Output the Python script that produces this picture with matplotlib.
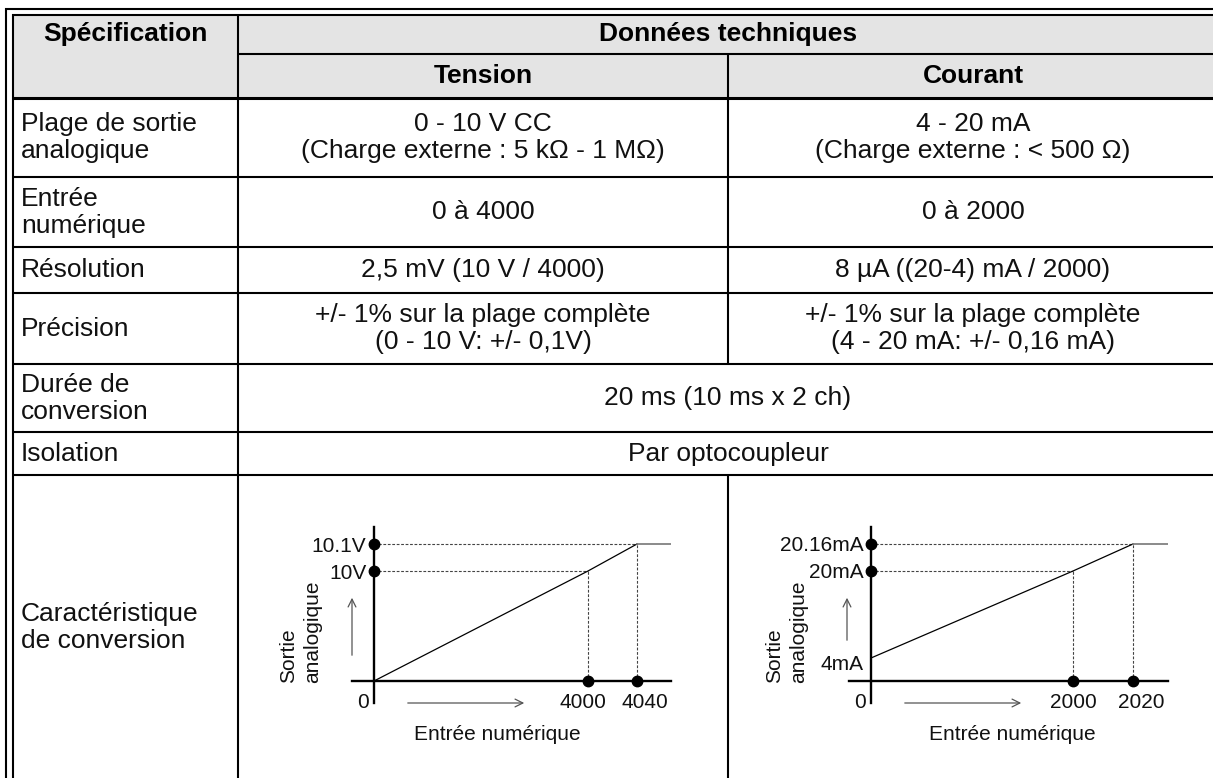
import numpy as np
import matplotlib
matplotlib.use("Agg")
import matplotlib.pyplot as plt
from matplotlib.patches import Rectangle
from matplotlib.transforms import ScaledTranslation

plt.rcParams['font.family'] = ['Liberation Sans', 'DejaVu Sans']

W, H = 1213, 778

# --- contenu du tableau ---
spec_labels = [["Plage de sortie", "analogique"], ["Entrée", "numérique"], ["Résolution"],
               ["Précision"], ["Durée de", "conversion"], ["Isolation"],
               ["Caractéristique", "de conversion"]]
tension_vals = [["0 - 10 V CC", "(Charge externe : 5 kΩ - 1 MΩ)"], ["0 à 4000"],
                ["2,5 mV (10 V / 4000)"],
                ["+/- 1% sur la plage complète", "(0 - 10 V: +/- 0,1V)"]]
courant_vals = [["4 - 20 mA", "(Charge externe : < 500 Ω)"], ["0 à 2000"],
                ["8 µA ((20-4) mA / 2000)"],
                ["+/- 1% sur la plage complète", "(4 - 20 mA: +/- 0,16 mA)"]]
shared_vals = [["20 ms (10 ms x 2 ch)"], ["Par optocoupleur"]]

# --- courbes de conversion (schéma) ---
tension_in = [0, 4000, 4040]
tension_out = [0, 10, 10.1]
tension_ylabels = ["10V", "10.1V"]
courant_in = [0, 2000, 2020]
courant_out = [4, 20, 20.16]
courant_ylabels = ["4mA", "20mA", "20.16mA"]

# mise en page (pixels)
row_edges = [98, 177, 247, 293, 364, 432, 475, 778]
x_spec, x_mid, x_right = 238, 728, 1218
lw = 1.5

fig = plt.figure(figsize=(W / 100, H / 100), dpi=100)
tab = fig.add_axes([0, 0, 1, 1])
tab.set_xlim(0, W)
tab.set_ylim(H, 0)
tab.axis('off')


def hl(y, x0, x1, w=lw):
    tab.plot([x0, x1], [y, y], color='black', lw=w, solid_capstyle='butt')


def vl(x, y0, y1, w=lw):
    tab.plot([x, x], [y0, y1], color='black', lw=w, solid_capstyle='butt')


# en-tête grisé
tab.add_patch(Rectangle((13, 15), x_right - 13, 98 - 15, color='#e4e4e4', zorder=0))

# double bordure
hl(9, 5, W)
hl(15, 12, W)
vl(6, 8, H)
vl(13, 14, H)

hl(54, x_spec, W)
hl(98, 13, W, 2.2)
for y in row_edges[1:-1]:
    hl(y, 13, W)
vl(x_spec, 15, H)
vl(x_mid, 54, row_edges[4])
vl(x_mid, row_edges[6], H)

fs = 19
tab.text((13 + x_spec) / 2, 34, "Spécification", ha='center', va='center', fontsize=fs, fontweight='bold')
tab.text(x_mid, 34, "Données techniques", ha='center', va='center', fontsize=fs, fontweight='bold')
tab.text((x_spec + x_mid) / 2, 76, "Tension", ha='center', va='center', fontsize=fs, fontweight='bold')
tab.text((x_mid + x_right) / 2, 76, "Courant", ha='center', va='center', fontsize=fs, fontweight='bold')


def cell(lines, x, yc, ha='center'):
    n = len(lines)
    for k, s in enumerate(lines):
        y = yc + (k - (n - 1) / 2) * 27
        tab.text(x, y, s, ha=ha, va='center', fontsize=fs, color='#111')


centers = [(a + b) / 2 for a, b in zip(row_edges[:-1], row_edges[1:])]
centers[-1] = 628
for i, lab in enumerate(spec_labels):
    cell(lab, 21, centers[i], ha='left')
for i, v in enumerate(tension_vals):
    cell(v, (x_spec + x_mid) / 2, centers[i])
for i, v in enumerate(courant_vals):
    cell(v, (x_mid + x_right) / 2, centers[i])
for i, v in enumerate(shared_vals):
    cell(v, (x_spec + x_right) / 2, centers[4 + i])


def piecewise(a, b):
    a = np.asarray(a, float)
    b = np.asarray(b, float)
    lo = (b[1] - b[0]) / (a[1] - a[0])
    hi = (b[-1] - b[-2]) / (a[-1] - a[-2])

    def f(v):
        v = np.asarray(v, float)
        out = np.interp(v, a, b)
        out = np.where(v < a[0], b[0] + (v - a[0]) * lo, out)
        return np.where(v > a[-1], b[-1] + (v - a[-1]) * hi, out)
    return f


def shift(lab, dx, dy):
    lab.set_transform(lab.get_transform() + ScaledTranslation(dx / 100, dy / 100, fig.dpi_scale_trans))


def chart(ox, xin, yout, ylabels, xoffs, yoffs, ybreaks, xshift, yshift):
    # ox : origine en pixels ; axe x de -22 a +297 px, axe y de -22 a +154 px
    ax = fig.add_axes([(ox - 22) / W, (H - 703) / H, 319 / W, 176 / H])
    ax.patch.set_visible(False)
    xb = [0] + list(xin[1:])
    fx, ix = piecewise(xb, xoffs), piecewise(xoffs, xb)
    fy, iy = piecewise(ybreaks, yoffs), piecewise(yoffs, ybreaks)
    ax.set_xscale('function', functions=(fx, ix))
    ax.set_yscale('function', functions=(fy, iy))
    x0, x1 = float(ix(-22)), float(ix(297))
    ax.set_xlim(x0, x1)
    ax.set_ylim(float(iy(-22)), float(iy(154)))
    for s in ['top', 'right']:
        ax.spines[s].set_visible(False)
    for s in ['left', 'bottom']:
        ax.spines[s].set_position(('data', 0))
        ax.spines[s].set_linewidth(1.7)
    ax.set_xticks(xin[1:], labels=[str(v) for v in xin[1:]])
    ax.set_yticks(yout if len(ylabels) == len(yout) else yout[1:], labels=ylabels)
    ax.tick_params(length=0, labelsize=15, labelcolor='#111')
    ax.tick_params(axis='x', pad=8.5)
    ax.tick_params(axis='y', pad=5.5)
    for lab, dx in zip(ax.get_xticklabels(), xshift):
        shift(lab, dx, 0)
    for lab, dy in zip(ax.get_yticklabels(), yshift):
        shift(lab, 0, dy)
    dash = dict(color='#444', lw=0.8, ls=(0, (2.5, 1.5)))
    for xv, yv in zip(xin[1:], yout[1:]):
        ax.plot([0, xv], [yv, yv], **dash)
        ax.plot([xv, xv], [0, yv], **dash)
    ax.plot(xin, yout, color='black', lw=0.9)
    ax.plot([xin[-1], x1], [yout[-1], yout[-1]], color='#777', lw=1.2)
    ax.plot(np.zeros(len(xin) - 1), yout[1:], 'o', ms=7.5, color='black', clip_on=False, zorder=5)
    ax.plot(xin[1:], np.zeros(len(xin) - 1), 'o', ms=7.5, color='black', clip_on=False, zorder=5)
    ax.annotate("0", xy=(0, 0), xytext=(-4, -9), textcoords='offset points',
                ha='right', va='top', fontsize=15, color='#111')
    return ax


chart(374, tension_in, tension_out, tension_ylabels, [0, 214, 263], [0, 110, 137],
      [0, 10, 10.1], [-5, 8], [0, 0])
chart(871, courant_in, courant_out, courant_ylabels, [0, 202, 262], [0, 23, 110, 137],
      [0, 4, 20, 20.16], [0, 8], [-5, 0, 0])

# fleches et titres d'axes
arrow = dict(arrowstyle='->', color='#555', lw=0.9, mutation_scale=14)
for ox, sx, ax_x, tx, y_start in [(374, 289, 352, 497, 658), (871, 775, 847, 1012, 643)]:
    tab.annotate('', xy=(ox + 153, 703), xytext=(ox + 31, 703), arrowprops=arrow)
    tab.annotate('', xy=(ax_x, 595), xytext=(ax_x, y_start), arrowprops=arrow)
    tab.text(tx, 735, "Entrée numérique", ha='center', va='center', fontsize=15, color='#111')
    tab.text(sx, 683, "Sortie", rotation=90, ha='center', va='bottom', fontsize=15, color='#111')
    tab.text(sx + 24, 683, "analogique", rotation=90, ha='center', va='bottom', fontsize=15, color='#111')

fig.savefig("out.png", dpi=100)
